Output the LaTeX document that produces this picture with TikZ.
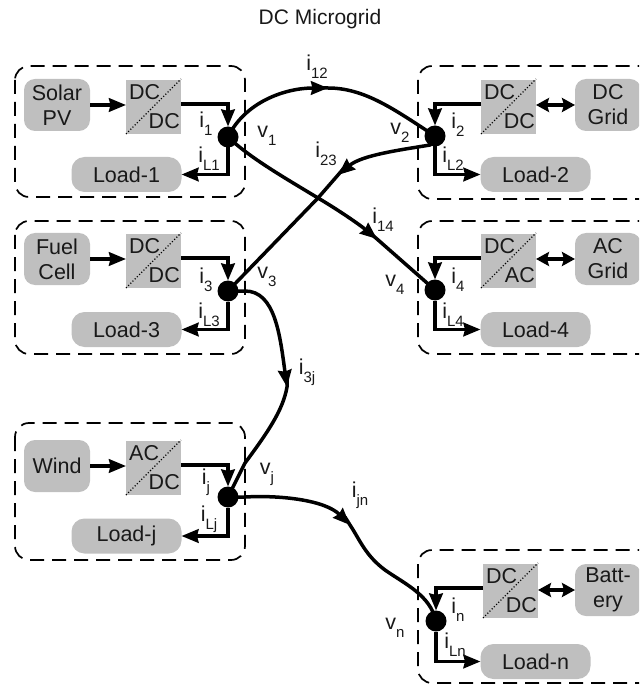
\documentclass[tikz,border=0pt]{standalone}
\usepackage{fontspec}
\setmainfont{Liberation Sans}
\usetikzlibrary{arrows.meta}
\definecolor{boxgray}{HTML}{BFBFBF}
\newcommand{\lab}[2]{#1\raisebox{-0.38em}{\fontsize{15}{15}\selectfont #2}}
\tikzset{
  txt/.style={font=\fontsize{21.5}{25}\selectfont,text=black!90},
  src/.style={txt,fill=boxgray,rounded corners=11pt,minimum width=66pt,minimum height=52pt,inner sep=0pt,outer sep=0pt,align=center},
  loadbox/.style={txt,fill=boxgray,rounded corners=13pt,minimum width=110pt,minimum height=35pt,inner sep=0pt,outer sep=0pt},
  conv/.style={fill=boxgray,minimum width=55pt,minimum height=54pt,inner sep=0pt,outer sep=0pt},
  diag/.style={dotted,line width=1.1pt,black},
  module/.style={dashed,dash pattern=on 14pt off 8pt,line width=1.7pt,rounded corners=14pt},
  dot/.style={circle,fill=black,minimum size=21pt,inner sep=0pt,outer sep=0pt},
  wire/.style={line width=3.5pt,black},
  tip/.style={wire,-{Stealth[length=17pt,width=13.5pt,inset=1.5pt]}},
  both/.style={wire,{Stealth[length=13pt,width=14pt,inset=2pt]}-{Stealth[length=13pt,width=14pt,inset=2pt]}},
  lbl/.style={txt,inner sep=0pt}
}
\newcommand{\convtext}[3]{%
  \draw[diag] ([xshift=0pt]#1.south west) -- ([yshift=1pt]#1.north east);
  \node[txt,anchor=north west,inner sep=0pt] at ([xshift=3pt,yshift=-4pt]#1.north west) {#2};
  \node[txt,anchor=south east,inner sep=0pt] at ([xshift=-1pt,yshift=5pt]#1.south east) {#3};}
\begin{document}
\begin{tikzpicture}[x=1pt,y=-1pt]
\useasboundingbox (0,0) rectangle (639,684);
\clip (0,0) rectangle (639,684);
\node[txt,font=\fontsize{21}{25}\selectfont] (title) at (320,19) {DC Microgrid};
% dashed modules
\draw[module] (15,66) rectangle (245,197);
\draw[module] (418,66) rectangle (660,199);
\draw[module] (15,221) rectangle (245,354);
\draw[module] (418,221) rectangle (660,354);
\draw[module] (15,423) rectangle (245,560);
\draw[module] (418,550) rectangle (660,683);
% sources
\node[src] (s1) at (57,105) {Solar\\PV};
\node[src] (s3) at (57,259) {Fuel\\Cell};
\node[src] (sj) at (57,466) {Wind};
\node[src] (s2) at (608,105) {DC\\Grid};
\node[src] (s4) at (608,259) {AC\\Grid};
\node[src] (sn) at (608,590) {Batt-\\ery};
% converters
\node[conv] (c1) at (153.5,107) {};
\node[conv] (c3) at (153.5,261) {};
\node[conv] (cj) at (153.5,468) {};
\node[conv] (c2) at (508.5,107) {};
\node[conv] (c4) at (508.5,261) {};
\node[conv] (cn) at (510.5,591) {};
\convtext{c1}{DC}{DC}
\convtext{c3}{DC}{DC}
\convtext{cj}{AC}{DC}
\convtext{c2}{DC}{DC}
\convtext{c4}{DC}{AC}
\convtext{cn}{DC}{DC}
% loads
\node[loadbox] (l1) at (126.5,174.5) {Load-1};
\node[loadbox] (l3) at (126.5,329.5) {Load-3};
\node[loadbox] (lj) at (126.5,536) {Load-j};
\node[loadbox] (l2) at (535.5,174.5) {Load-2};
\node[loadbox] (l4) at (535.5,329.5) {Load-4};
\node[loadbox] (ln) at (535.5,661.5) {Load-n};
% junctions
\node[dot] (d1) at (228,137) {};
\node[dot] (d3) at (228,291) {};
\node[dot] (dj) at (228,497) {};
\node[dot] (d2) at (435,136) {};
\node[dot] (d4) at (435,290) {};
\node[dot] (dn) at (436,621) {};
% local wiring
\foreach \s/\c/\d/\l in {s1/c1/d1/l1,s3/c3/d3/l3,sj/cj/dj/lj}{
  \draw[tip] (\s.east) -- (\s.east -| \c.west);
  \draw[tip] ([yshift=3pt]\c.east) -| (\d.north);
  \draw[tip] (\d.south) |- (\l.east);
}
\foreach \s/\c/\d/\l in {s2/c2/d2/l2,s4/c4/d4/l4,sn/cn/dn/ln}{
  \draw[both] (\s.west) -- (\s.west -| \c.east);
  \draw[tip] ([yshift=3pt]\c.west) -| (\d.north);
  \draw[tip] (\d.south) |- (\l.west);
}
% network lines: each is split where its arrowhead sits
\coordinate (x) at (318,198);
\coordinate (a12) at (328,88);
\coordinate (b12) at (320,88);
\coordinate (a23) at (338,175);
\coordinate (b23) at (344,168);
\coordinate (a14) at (377,239);
\coordinate (b14) at (370,233);
\coordinate (a3j) at (287,387);
\coordinate (b3j) at (287,378);
\coordinate (ajn) at (350,525);
\coordinate (bjn) at (345,517);
\draw[tip] (d1.center) .. controls (245,102) and (285,88) .. (a12);
\draw[wire] (b12) -- (a12) .. controls (365,88) and (395,110) .. (d2.center);
\draw[tip] (d2.center) -- (430,145) .. controls (400,150) and (362,155) .. (a23);
\draw[wire] (b23) -- (a23) -- (x) -- (d3.center);
\draw[tip] (d1.center) .. controls (250,158) and (285,178) .. (x) .. controls (340,211) and (360,225) .. (a14);
\draw[wire] (b14) -- (a14) -- (d4.center);
\draw[tip] (d3.center) -- (245,291) .. controls (275,291) and (280,335) .. (a3j);
\draw[wire] (b3j) -- (a3j) .. controls (283,410) and (268,432) .. (245,463) -- (dj.center);
\draw[tip] (dj.center) -- (245,497) .. controls (280,495) and (325,500) .. (ajn);
\draw[wire] (bjn) -- (ajn) .. controls (360,540) and (365,555) .. (385,570) .. controls (405,584) and (430,595) .. (dn.center);
% labels
\node[lbl] (n1) at (206,124) {\lab{i}{1}};
\node[lbl] (n2) at (209,159) {\lab{i}{L1}};
\node[lbl] (n3) at (267,136) {\lab{v}{1}};
\node[lbl] (n4) at (317,67) {\lab{i}{12}};
\node[lbl] (n5) at (326,154) {\lab{i}{23}};
\node[lbl] (n6) at (383,220) {\lab{i}{14}};
\node[lbl] (n7) at (458,125) {\lab{i}{2}};
\node[lbl] (n8) at (453,159) {\lab{i}{L2}};
\node[lbl] (n9) at (400,133) {\lab{v}{2}};
\node[lbl] (n10) at (206,280) {\lab{i}{3}};
\node[lbl] (n11) at (209,315) {\lab{i}{L3}};
\node[lbl] (n12) at (267,277) {\lab{v}{3}};
\node[lbl] (n13) at (458,280) {\lab{i}{4}};
\node[lbl] (n14) at (453,315) {\lab{i}{L4}};
\node[lbl] (n15) at (395,285) {\lab{v}{4}};
\node[lbl] (n16) at (307,372) {\lab{i}{3j}};
\node[lbl] (n17) at (206,482) {\lab{i}{j}};
\node[lbl] (n18) at (209,519) {\lab{i}{Lj}};
\node[lbl] (n19) at (267,474) {\lab{v}{j}};
\node[lbl] (n20) at (360,495) {\lab{i}{jn}};
\node[lbl] (n21) at (458,610) {\lab{i}{n}};
\node[lbl] (n22) at (455,645) {\lab{i}{Ln}};
\node[lbl] (n23) at (395,628) {\lab{v}{n}};
\end{tikzpicture}
\end{document}
